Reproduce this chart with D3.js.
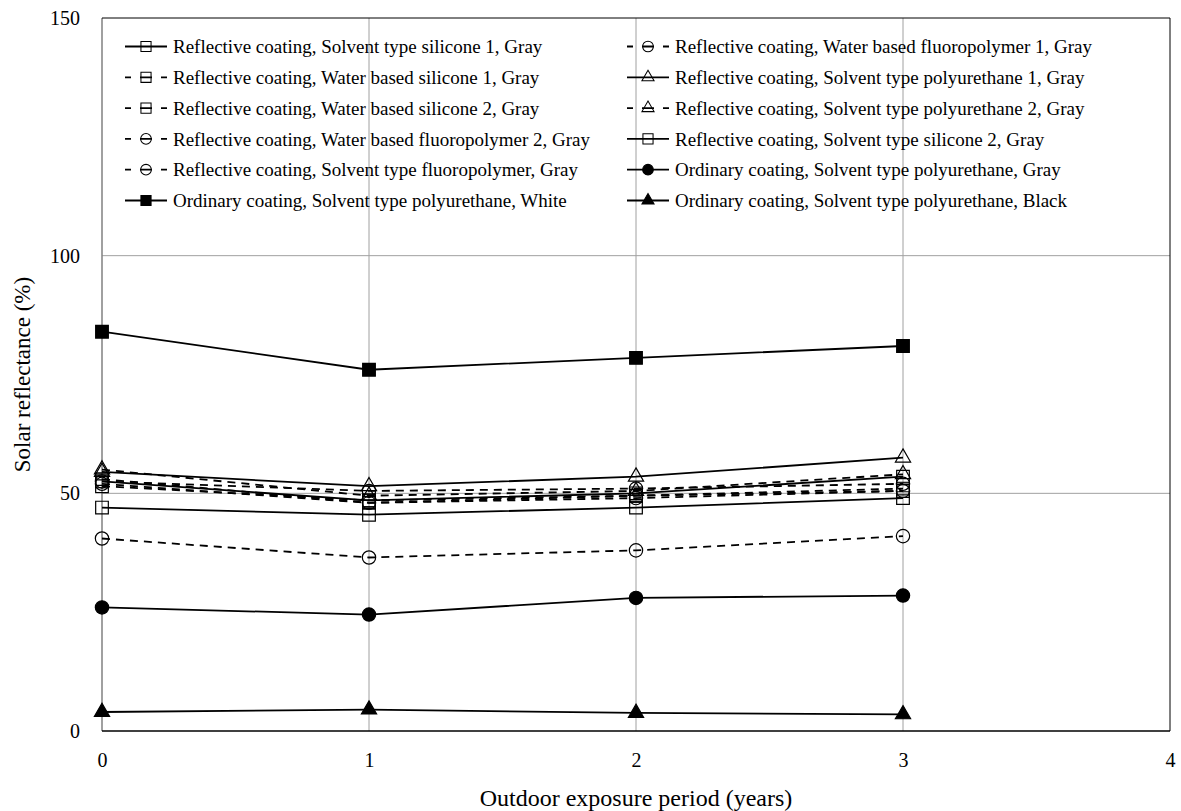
<!DOCTYPE html>
<html>
<head>
<meta charset="utf-8">
<script src="https://cdn.jsdelivr.net/npm/d3@7"></script>
<style>
  body { margin: 0; background: #fff; }
  text { font-family: "Liberation Serif", "Times New Roman", serif; fill: #000; }
</style>
</head>
<body>
<div id="chart"></div>
<script>
// exposure years
var years = [0, 1, 2, 3];

// series names, in legend (row-wise) order
var seriesNames = [
  "Reflective coating, Solvent type silicone 1, Gray",
  "Reflective coating, Water based fluoropolymer 1, Gray",
  "Reflective coating, Water based silicone 1, Gray",
  "Reflective coating, Solvent type polyurethane 1, Gray",
  "Reflective coating, Water based silicone 2, Gray",
  "Reflective coating, Solvent type polyurethane 2, Gray",
  "Reflective coating, Water based fluoropolymer 2, Gray",
  "Reflective coating, Solvent type silicone 2, Gray",
  "Reflective coating, Solvent type fluoropolymer, Gray",
  "Ordinary coating, Solvent type polyurethane, Gray",
  "Ordinary coating, Solvent type polyurethane, White",
  "Ordinary coating, Solvent type polyurethane, Black"
];

// solar reflectance (%) per series
var seriesValues = [
  [52.5, 48.5, 50.0, 53.5],
  [52.5, 50.5, 51.0, 52.0],
  [53.0, 48.0, 49.5, 51.0],
  [54.5, 51.5, 53.5, 57.5],
  [51.5, 48.5, 49.5, 50.5],
  [55.0, 49.5, 50.5, 54.0],
  [52.0, 48.0, 49.0, 50.5],
  [47.0, 45.5, 47.0, 49.0],
  [40.5, 36.5, 38.0, 41.0],
  [26.0, 24.5, 28.0, 28.5],
  [84.0, 76.0, 78.5, 81.0],
  [4.0, 4.5, 3.8, 3.5]
];

var xTicks = [0, 1, 2, 3, 4];
var yTicks = [0, 50, 100, 150];

// marker / line style per series
var markerShape = ["square", "circle", "square", "triangle", "square", "triangle",
                   "circle", "square", "circle", "circle", "square", "triangle"];
var markerFilled = [false, false, false, false, false, false,
                    false, false, false, true, true, true];
var lineDashed = [false, true, true, false, true, true,
                  true, false, true, false, false, false];

var W = 1181, H = 811;
var margin = {left: 102, right: 11, top: 18, bottom: 80};

var svg = d3.select("#chart").append("svg")
  .attr("width", W).attr("height", H);

var x = d3.scaleLinear().domain([0, 4]).range([margin.left, W - margin.right]);
var y = d3.scaleLinear().domain([0, 150]).range([H - margin.bottom, margin.top]);

// grid
svg.append("g").selectAll("line.vg")
  .data(xTicks.slice(1, -1)).enter().append("line")
  .attr("x1", function(d){ return x(d); }).attr("x2", function(d){ return x(d); })
  .attr("y1", y(0)).attr("y2", y(150))
  .style("stroke", "#a0a0a0").style("stroke-width", 1);
svg.append("g").selectAll("line.hg")
  .data(yTicks.slice(1, -1)).enter().append("line")
  .attr("x1", x(0)).attr("x2", x(4))
  .attr("y1", function(d){ return y(d); }).attr("y2", function(d){ return y(d); })
  .style("stroke", "#a0a0a0").style("stroke-width", 1);

// frame
svg.append("line").attr("x1", x(0)).attr("x2", x(0)).attr("y1", y(0)).attr("y2", y(150))
  .style("stroke", "#808080").style("stroke-width", 1.5);
svg.append("line").attr("x1", x(0)).attr("x2", x(4)).attr("y1", y(150)).attr("y2", y(150))
  .style("stroke", "#000").style("stroke-width", 1);
svg.append("line").attr("x1", x(4)).attr("x2", x(4)).attr("y1", y(0)).attr("y2", y(150))
  .style("stroke", "#000").style("stroke-width", 1);
svg.append("line").attr("x1", x(0)).attr("x2", x(4)).attr("y1", y(0)).attr("y2", y(0))
  .style("stroke", "#000").style("stroke-width", 1.5);

// axes (labels only)
var xAxis = d3.axisBottom(x).tickValues(xTicks).tickSize(0).tickPadding(22).tickFormat(d3.format("d"));
var gx = svg.append("g").attr("transform", "translate(0," + y(0) + ")").call(xAxis);
gx.select(".domain").remove();
gx.selectAll("text").style("font-size", "20px").style("font-family", "Liberation Serif");

var yAxis = d3.axisLeft(y).tickValues(yTicks).tickSize(0).tickPadding(22).tickFormat(d3.format("d"));
var gy = svg.append("g").attr("transform", "translate(" + x(0) + ",0)").call(yAxis);
gy.select(".domain").remove();
gy.selectAll("text").style("font-size", "20px").style("font-family", "Liberation Serif");

// axis titles
svg.append("text").attr("x", (x(0) + x(4)) / 2).attr("y", 806)
  .attr("text-anchor", "middle").style("font-size", "24px")
  .text("Outdoor exposure period (years)");
svg.append("text").attr("transform", "translate(30," + y(75) + ") rotate(-90)")
  .attr("text-anchor", "middle").style("font-size", "23px")
  .text("Solar reflectance (%)");

// markers
function symbolFor(i) {
  var s = markerShape[i];
  if (s === "square") return d3.symbol().type(d3.symbolSquare).size(160)();
  if (s === "circle") return d3.symbol().type(d3.symbolCircle).size(140)();
  return d3.symbol().type(d3.symbolTriangle).size(100)();
}

var line = d3.line()
  .x(function(d, j){ return x(years[j]); })
  .y(function(d){ return y(d); });

var series = svg.append("g").selectAll("g")
  .data(seriesValues).enter().append("g");

series.append("path")
  .attr("d", function(d){ return line(d); })
  .style("fill", "none").style("stroke", "#000").style("stroke-width", 1.8)
  .style("stroke-dasharray", function(d, i){ return lineDashed[i] ? "8,6" : null; });

series.each(function(vals, i) {
  d3.select(this).selectAll("path.m")
    .data(vals).enter().append("path")
    .attr("class", "m")
    .attr("d", symbolFor(i))
    .attr("transform", function(d, j){ return "translate(" + x(years[j]) + "," + y(d) + ")"; })
    .style("fill", markerFilled[i] ? "#000" : "none")
    .style("stroke", "#000").style("stroke-width", 1.2);
});

// legend
var legend = svg.append("g").selectAll("g")
  .data(seriesNames).enter().append("g")
  .attr("transform", function(d, i){
    var col = i % 2, row = Math.floor(i / 2);
    return "translate(" + (col === 0 ? 146 : 648) + "," + (46.5 + row * 30.8) + ")";
  });

legend.append("line")
  .attr("x1", -21).attr("x2", 21).attr("y1", 0).attr("y2", 0)
  .style("stroke", "#000").style("stroke-width", 1.8)
  .style("stroke-dasharray", function(d, i){ return lineDashed[i] ? "6,9,12,9,6,40" : null; });

legend.append("path")
  .attr("d", function(d, i){ return symbolFor(i); })
  .attr("transform", "scale(0.8)")
  .style("fill", function(d, i){ return markerFilled[i] ? "#000" : "none"; })
  .style("stroke", "#000").style("stroke-width", 1.3);

legend.append("text")
  .attr("x", 27).attr("y", 0).attr("dy", "0.35em")
  .style("font-size", "19px")
  .text(function(d){ return d; });
</script>
</body>
</html>
